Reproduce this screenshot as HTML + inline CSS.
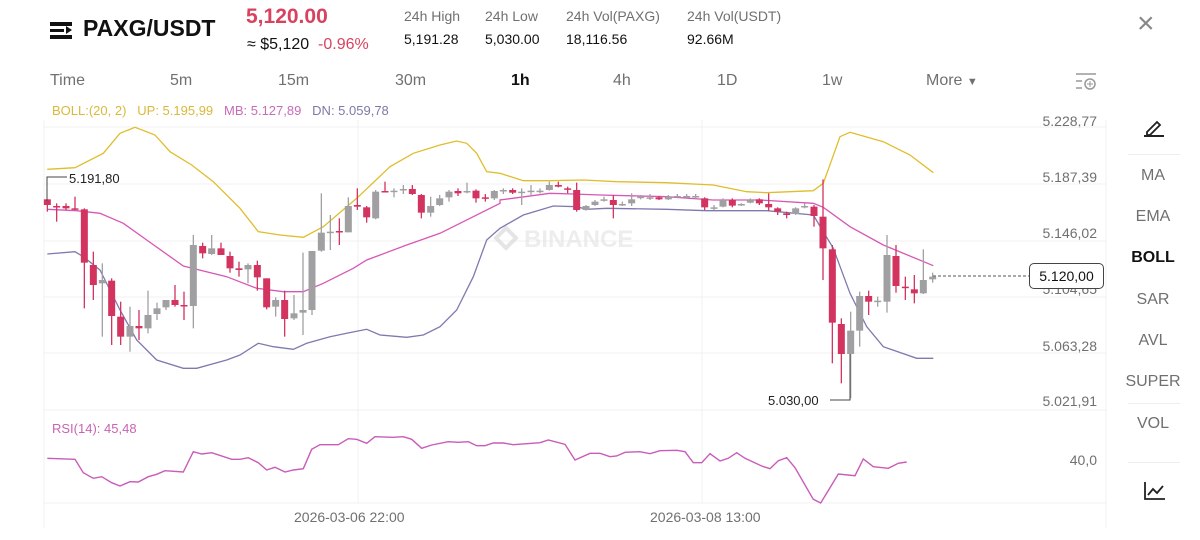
<!DOCTYPE html>
<html><head><meta charset="utf-8"><style>
body{margin:0;width:1200px;height:540px;background:#fff;font-family:"Liberation Sans",sans-serif;overflow:hidden;position:relative}
.a{position:absolute;white-space:nowrap}
.g{color:#707070}
</style></head><body>
<div class="a" style="left:50px;top:22px;width:22px;height:4px;background:#111"></div>
<div class="a" style="left:50px;top:29px;width:14px;height:3px;background:#111"></div>
<div class="a" style="left:50px;top:35px;width:22px;height:4px;background:#111"></div>
<div class="a" style="left:66px;top:26px;width:0;height:0;border-left:6px solid #111;border-top:4px solid transparent;border-bottom:4px solid transparent"></div>
<div class="a" style="left:83px;top:15px;font-size:23px;font-weight:bold;color:#111">PAXG/USDT</div>
<div class="a" style="left:246px;top:5px;font-size:21px;font-weight:bold;color:#d9425e">5,120.00</div>
<div class="a" style="left:247px;top:36px;font-size:16px;color:#111">≈ $5,120 <span style="color:#d9425e">&nbsp;-0.96%</span></div>
<div class="a g" style="left:404px;top:8px;font-size:14px">24h High</div>
<div class="a" style="left:404px;top:31px;font-size:14px;color:#111">5,191.28</div>
<div class="a g" style="left:485px;top:8px;font-size:14px">24h Low</div>
<div class="a" style="left:485px;top:31px;font-size:14px;color:#111">5,030.00</div>
<div class="a g" style="left:566px;top:8px;font-size:14px">24h Vol(PAXG)</div>
<div class="a" style="left:566px;top:31px;font-size:14px;color:#111">18,116.56</div>
<div class="a g" style="left:687px;top:8px;font-size:14px">24h Vol(USDT)</div>
<div class="a" style="left:687px;top:31px;font-size:14px;color:#111">92.66M</div>
<div class="a" style="left:1137px;top:7px;font-size:30px;color:#888;font-weight:lighter">×</div>
<div class="a g" style="left:50px;top:72px;font-size:16px">Time</div>
<div class="a g" style="left:170px;top:72px;font-size:16px">5m</div>
<div class="a g" style="left:278px;top:72px;font-size:16px">15m</div>
<div class="a g" style="left:395px;top:72px;font-size:16px">30m</div>
<div class="a" style="left:511px;top:72px;font-size:16px;color:#111;font-weight:bold">1h</div>
<div class="a g" style="left:613px;top:72px;font-size:16px">4h</div>
<div class="a g" style="left:717px;top:72px;font-size:16px">1D</div>
<div class="a g" style="left:822px;top:72px;font-size:16px">1w</div>
<div class="a g" style="left:926px;top:72px;font-size:16px">More <span style="font-size:11px">▼</span></div>
<div class="a" style="left:52px;top:103px;font-size:13px"><span style="color:#d9b93a">BOLL:(20, 2)&nbsp;&nbsp; UP: 5.195,99</span>&nbsp;&nbsp; <span style="color:#c86bb8">MB: 5.127,89</span>&nbsp;&nbsp; <span style="color:#7d7aa6">DN: 5.059,78</span></div>
<div class="a" style="left:52px;top:421px;font-size:13px;color:#c864b4">RSI(14): 45,48</div>
<div class="a g" style="left:294px;top:509px;font-size:14px">2026-03-06 22:00</div>
<div class="a g" style="left:650px;top:509px;font-size:14px">2026-03-08 13:00</div>
<div class="a g" style="right:103px;top:113px;font-size:14px">5.228,77</div>
<div class="a g" style="right:103px;top:169px;font-size:14px">5.187,39</div>
<div class="a g" style="right:103px;top:225px;font-size:14px">5.146,02</div>
<div class="a g" style="right:103px;top:281px;font-size:14px">5.104,65</div>
<div class="a g" style="right:103px;top:338px;font-size:14px">5.063,28</div>
<div class="a g" style="right:103px;top:393px;font-size:14px">5.021,91</div>
<div class="a g" style="right:103px;top:452px;font-size:14px">40,0</div>
<div class="a" style="left:1029px;top:263px;width:73px;height:24px;border:1px solid #444;border-radius:5px;background:#fff;font-size:14px;color:#111;text-align:center;line-height:24px">5.120,00</div>
<div class="a" style="left:1128px;top:154px;width:52px;height:1px;background:#eee"></div>
<div class="a" style="left:1128px;top:403px;width:52px;height:1px;background:#eee"></div>
<div class="a" style="left:1128px;top:462px;width:52px;height:1px;background:#eee"></div>
<div class="a g" style="left:1106px;width:94px;text-align:center;top:167px;font-size:16px">MA</div>
<div class="a g" style="left:1106px;width:94px;text-align:center;top:208px;font-size:16px">EMA</div>
<div class="a" style="left:1106px;width:94px;text-align:center;top:249px;font-size:16px;color:#111;font-weight:bold">BOLL</div>
<div class="a g" style="left:1106px;width:94px;text-align:center;top:291px;font-size:16px">SAR</div>
<div class="a g" style="left:1106px;width:94px;text-align:center;top:332px;font-size:16px">AVL</div>
<div class="a g" style="left:1106px;width:94px;text-align:center;top:373px;font-size:16px">SUPER</div>
<div class="a g" style="left:1106px;width:94px;text-align:center;top:415px;font-size:16px">VOL</div>
<svg id="s" class="a" style="left:0;top:0" width="1200" height="540"></svg>
<script>
var S=document.getElementById('s'),h='';
function L(x1,y1,x2,y2,c,w,extra){h+='<line x1="'+x1+'" y1="'+y1+'" x2="'+x2+'" y2="'+y2+'" stroke="'+c+'" stroke-width="'+(w||1)+'" '+(extra||'')+'/>';}
[127,184,241,297,353,410,503].forEach(function(y){L(44,y,1106,y,'#f1f1f1');});
L(358,120,358,503,'#f1f1f1');L(702,120,702,503,'#f1f1f1');L(1106,120,1106,528,'#f1f1f1');L(44,120,44,528,'#f1f1f1');
h+='<path d="M1076 74h20M1076 81h6M1076 88h6" stroke="#999" stroke-width="1.5"/><circle cx="1090" cy="84" r="5" fill="none" stroke="#999" stroke-width="1.5"/><path d="M1087 84h6M1090 81v6" stroke="#999"/>';
h+='<path d="M1147 132l10-10 3 3-10 10h-3z" fill="none" stroke="#222" stroke-width="1.8"/><line x1="1144" y1="136" x2="1164" y2="136" stroke="#222" stroke-width="2"/>';
h+='<path d="M1145 482v17h20M1148 495l5-6 4 4 6-7" fill="none" stroke="#222" stroke-width="1.8"/>';
h+='<g opacity="0.5"><path d="M506 228l10 10-10 10-10-10z" fill="none" stroke="#ccc" stroke-width="4"/><text x="524" y="247" font-size="24" font-weight="bold" fill="#ddd" font-family="Liberation Sans">BINANCE</text></g>';
function P(pts,ox,c,w){var s='';pts.forEach(function(p,i){var X=p[0]>=1500?p[0]-120:p[0];s+=(i?'L':'M')+(ox+X/3).toFixed(1)+' '+(120+p[1]/3).toFixed(1);});h+='<path d="'+s+'" fill="none" stroke="'+c+'" stroke-width="'+(w||1.3)+'"/>';}
function PR(pts,ox,oy,c){var s='';pts.forEach(function(p,i){s+=(i?'L':'M')+(ox+p[0]/3).toFixed(1)+' '+(oy+p[1]/3).toFixed(1);});h+='<path d="'+s+'" fill="none" stroke="'+c+'" stroke-width="1.4"/>';}
var R='#d2335f',G='#a0a0a3';
var c1=[[22,238,255,238,275,R],[50,258,262,250,305,R],[78,258,265,250,270,R],[105,265,268,230,270,R],[133,268,428,265,565,R],[160,435,495,395,540,R],[187,480,490,430,650,G],[215,482,588,475,675,R],[242,590,650,545,675,R],[270,618,650,560,695,G],[297,618,625,570,660,R],[324,585,625,512,640,G],[351,565,582,548,600,G],[378,540,562,540,570,G],[405,540,555,495,560,R],[432,555,558,515,600,R],[460,375,558,345,625,G],[488,378,400,368,415,R],[515,385,402,345,405,G],[543,385,405,368,405,R],[570,408,445,395,458,R],[597,445,450,425,470,R],[624,435,448,430,490,G],[652,435,472,422,512,R],[680,475,562,475,568,R],[707,540,560,532,590,G],[734,540,597,512,650,R],[762,580,595,525,600,G],[789,570,578,398,645,G],[816,393,570,393,585,G],[844,338,392,220,395,G],[871,335,337,285,390,G],[898,333,337,295,375,R],[925,258,337,232,337,G],[952,255,260,205,270,R],[980,262,292,258,308,R],[1007,215,295,210,298,G],[1035,213,215,185,215,R],[1062,212,214,205,232,G],[1090,207,210,195,222,G],[1117,207,222,195,225,R],[1144,225,278,222,295,R],[1172,258,278,230,290,G],[1199,235,255,225,258,G],[1227,215,232,210,245,G],[1254,213,220,205,228,R],[1281,213,217,188,220,G],[1308,212,235,208,248,R],[1336,232,236,222,245,R],[1363,213,235,210,240,G],[1390,210,213,205,222,G],[1418,210,218,205,222,R]];
var c2=[[65,215,218,205,255,G],[93,212,215,195,225,G],[120,212,214,205,220,G],[148,195,210,185,212,G],[175,195,200,185,202,R],[203,205,207,200,220,R],[230,210,270,188,275,R],[258,258,270,255,272,G],[285,245,255,240,258,G],[312,238,242,230,245,G],[340,240,255,225,295,R],[367,252,254,245,258,G],[395,238,250,220,258,G],[422,230,234,225,238,G],[450,232,235,222,240,G],[477,232,238,228,240,R],[505,230,238,225,240,G],[532,228,230,222,232,G],[560,228,230,222,236,G],[587,228,230,222,236,G],[614,235,262,232,270,R],[642,262,265,255,270,G],[669,240,260,235,262,G],[697,240,257,235,262,R],[724,252,256,250,258,G],[751,238,248,235,250,G],[778,238,250,235,255,R],[806,252,262,220,272,R],[833,265,275,262,285,R],[860,280,285,275,295,R],[887,265,282,262,285,G],[914,258,262,250,265,G],[942,260,288,255,320,R],[969,290,385,178,480,R],[997,388,608,375,730,R],[1024,612,702,595,790,R],[1052,632,702,575,835,G],[1079,528,632,515,680,G],[1106,528,545,512,585,R],[1133,542,545,530,560,G],[1161,405,545,345,578,G],[1188,408,498,375,518,R],[1216,500,503,470,540,R],[1243,508,520,465,550,R],[1270,480,520,388,522,G],[1298,470,478,458,488,G]];
function C(arr,ox){arr.forEach(function(c){var x=ox+c[0]/3,y=function(v){return 120+v/3;};L(x,y(c[3]),x,y(c[4]),c[5],1.3);var t=y(c[1]),b=Math.max(y(c[2]),t+1.5);h+='<rect x="'+(x-3.5)+'" y="'+t+'" width="7" height="'+(b-t)+'" fill="'+c[5]+'"/>';});}
P([[22,148],[105,143],[190,100],[240,40],[285,22],[345,45],[390,95],[455,135],[520,185],[600,265],[655,335],[720,345],[790,352],[850,320],[950,235],[1050,140],[1120,100],[1200,75],[1250,63],[1280,70],[1310,100],[1340,155],[1500,160],[1570,182],[1650,182],[1750,180],[1850,185],[2000,188],[2140,195],[2240,215],[2300,218],[2440,212],[2470,190],[2520,50],[2550,37],[2650,65],[2730,105],[2800,158]],40,'#e0bd2c');
P([[22,268],[110,272],[180,280],[250,310],[320,360],[430,438],[560,470],[650,505],[730,515],[790,515],[850,490],[940,445],[980,420],[1100,375],[1200,340],[1300,290],[1380,250],[1500,240],[1650,220],[1720,222],[1800,225],[2000,230],[2140,240],[2280,240],[2440,250],[2470,262],[2550,320],[2650,375],[2800,437]],40,'#d757b5');
P([[22,402],[105,395],[130,410],[180,450],[240,570],[290,660],[350,720],[430,745],[470,745],[560,720],[600,705],[655,670],[700,680],[760,688],[800,670],[870,650],[920,640],[980,628],[1020,645],[1100,652],[1150,645],[1200,620],[1250,570],[1300,470],[1340,360],[1500,325],[1570,285],[1620,270],[1660,258],[1730,260],[1760,268],[1820,265],[2000,268],[2120,272],[2300,272],[2440,285],[2500,385],[2550,520],[2600,620],[2650,680],[2750,715],[2800,715]],40,'#7e7aae');
C(c1,40);C(c2,500);
h+='<path d="M47 201V177H67" fill="none" stroke="#444"/><text x="69" y="183" font-size="13" fill="#222" font-family="Liberation Sans">5.191,80</text>';
h+='<path d="M850 354V400H830" fill="none" stroke="#444"/><text x="768" y="405" font-size="13" fill="#222" font-family="Liberation Sans">5.030,00</text>';
L(933,276,1029,276,'#555',1,'stroke-dasharray="3,2"');
PR([[22,145],[105,148],[130,188],[160,205],[185,200],[215,218],[240,228],[270,215],[295,216],[325,200],[350,193],[375,182],[430,186],[460,125],[485,132],[515,128],[575,148],[600,148],[625,143],[655,158],[680,180],[705,172],[735,186],[760,180],[790,176],[815,118],[840,104],[895,104],[925,86],[950,88],[980,100],[1005,80],[1060,82],[1090,80],[1115,88],[1145,115],[1175,105],[1225,95],[1255,97],[1285,95],[1310,107],[1335,107],[1360,99],[1390,99],[1420,104],[1500,98],[1525,90],[1575,103],[1605,150],[1650,130],[1680,130],[1710,140],[1730,138],[1755,127],[1800,125],[1830,131],[1860,122],[1910,121],[1935,125],[1960,158],[1985,158],[2010,131],[2040,153],[2065,145],[2090,128],[2115,145],[2165,168],[2190,176],[2215,152],[2240,143],[2265,173],[2320,268],[2342,279],[2370,233],[2395,192],[2445,197],[2470,147],[2500,170],[2545,175],[2575,160],[2600,156]],40,410,'#c95cb8');
S.innerHTML=h;
</script>
</body></html>
